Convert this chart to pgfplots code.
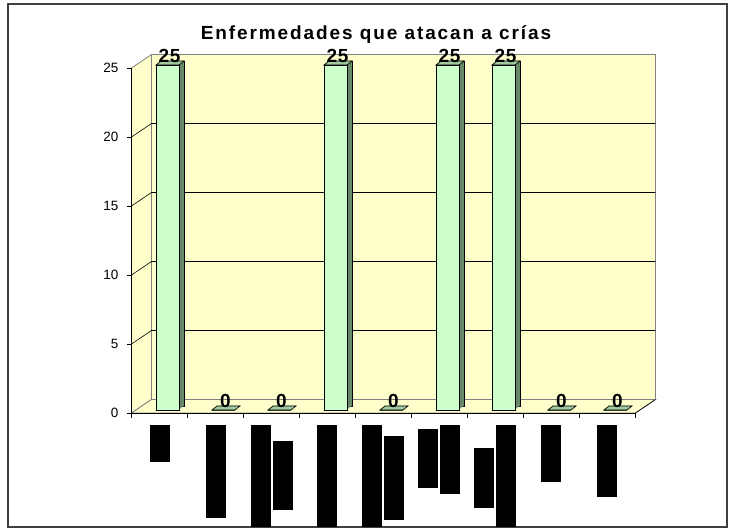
\documentclass[border=0pt]{standalone}
\usepackage{fontspec}
\setmainfont{Liberation Sans}
\newfontfamily\titlefont[LetterSpace=10]{Liberation Sans}
\newfontfamily\valfont[LetterSpace=4]{Liberation Sans}
\usepackage{pgfplots}
\pgfplotsset{compat=1.18}
\usepackage{pgfplotstable}
\definecolor{wall}{HTML}{FFFFCC}
\definecolor{frontg}{HTML}{CCFFCC}
\definecolor{topg}{HTML}{9FC99F}
\definecolor{sideg}{HTML}{668866}
\definecolor{edge}{HTML}{808080}

\pgfdeclareplotmark{barTop}{%
 \pgfpathmoveto{\pgfqpoint{-3.5bp}{3bp}}%
 \pgfpathlineto{\pgfqpoint{19.5bp}{3bp}}%
 \pgfpathlineto{\pgfqpoint{24.5bp}{7bp}}%
 \pgfpathlineto{\pgfqpoint{1.5bp}{7bp}}%
 \pgfpathclose
 \pgfusepathqfillstroke}

\pgfplotstableread{
x v
0.5 25
1.5 0
2.5 0
3.5 25
4.5 0
5.5 25
6.5 25
7.5 0
8.5 0
}\datatable

\begin{document}
\begin{tikzpicture}
\useasboundingbox (0,0) rectangle (734bp,531bp);
\draw[color=black!75, line width=1.2bp] (8bp,4bp) rectangle (727bp,527bp);
\node[font=\titlefont\bfseries\fontsize{19bp}{21bp}\selectfont, anchor=base] at (376bp,491bp) {Enfermedades que atacan a crías};
\begin{axis}[
 at={(131.5bp,118bp)}, anchor=south west,
 scale only axis, width=504bp, height=345bp,
 xmin=0, xmax=9, ymin=0, ymax=25,
 clip=false, axis on top,
 axis x line*=bottom, axis y line*=left,
 axis line style={black, line width=0.8bp},
 major tick length=0pt,
 tick style={draw=none},
 ytick={0,5,10,15,20,25},
 xtick={0.5,1.5,2.5,3.5,4.5,5.5,6.5,7.5,8.5},
 xticklabels={
  {\rule[-37bp]{20bp}{37bp}},
  {\rule[-93bp]{20bp}{93bp}},
  {\rule[-102bp]{20bp}{102bp}\hspace{2bp}\rule[-85bp]{20bp}{69bp}},
  {\rule[-102bp]{20bp}{102bp}},
  {\rule[-102bp]{20bp}{102bp}\hspace{2bp}\rule[-95bp]{20bp}{84bp}},
  {\rule[-63bp]{20bp}{59bp}\hspace{2bp}\rule[-69bp]{20bp}{69bp}},
  {\rule[-83bp]{20bp}{60bp}\hspace{2bp}\rule[-102bp]{20bp}{102bp}},
  {\rule[-57bp]{20bp}{57bp}},
  {\rule[-72bp]{20bp}{72bp}}},
 yticklabel style={anchor=east, inner sep=0pt, xshift=-13bp, font=\fontsize{13.5bp}{14bp}\selectfont},
 xticklabel style={anchor=north, inner sep=0pt, yshift=-12bp},
 /pgf/number format/assume math mode=true,
]
% walls
\fill[wall, draw=edge, line width=0.8bp] (axis cs:0.357,0.978) rectangle (axis cs:9.357,25.978);
\fill[wall, draw=edge, line width=0.8bp] (axis cs:0,0) -- (axis cs:0.357,0.978) -- (axis cs:0.357,25.978) -- (axis cs:0,25) -- cycle;
\fill[wall, draw=edge, line width=0.8bp] (axis cs:0,0) -- (axis cs:9,0) -- (axis cs:9.357,0.978) -- (axis cs:0.357,0.978) -- cycle;
\draw[edge, line width=1.8bp] (axis cs:9.357,0.978) -- (axis cs:9.357,25.978);
\draw[black, line width=0.6bp] (axis cs:9,0) -- (axis cs:9.357,0.978);
% gridlines
\draw[black, line width=0.6bp] (axis cs:0,5) -- (axis cs:0.357,5.978) -- (axis cs:9.357,5.978);
\draw[black, line width=0.6bp] (axis cs:0,10) -- (axis cs:0.357,10.978) -- (axis cs:9.357,10.978);
\draw[black, line width=0.6bp] (axis cs:0,15) -- (axis cs:0.357,15.978) -- (axis cs:9.357,15.978);
\draw[black, line width=0.6bp] (axis cs:0,20) -- (axis cs:0.357,20.978) -- (axis cs:9.357,20.978);
% ticks
\pgfplotsinvokeforeach{0,1,2,3,4,5,6,7,8,9}{\draw[black, line width=0.8bp] (axis cs:#1,0) -- ++(0,-5bp);}
\pgfplotsinvokeforeach{0,5,10,15,20,25}{\draw[black, line width=0.8bp] (axis cs:0,#1) -- ++(-5bp,0);}
% bars: side extrusion
\addplot[ybar, bar width=23bp, bar shift=13bp, yshift=7bp, fill=sideg, draw=black, line width=0.6bp] table[x=x,y=v]{\datatable};
\addplot[ybar, bar width=23bp, bar shift=12bp, yshift=6.2bp, fill=sideg, draw=none] table[x=x,y=v]{\datatable};
\addplot[ybar, bar width=23bp, bar shift=11bp, yshift=5.4bp, fill=sideg, draw=none] table[x=x,y=v]{\datatable};
\addplot[ybar, bar width=23bp, bar shift=10bp, yshift=4.6bp, fill=sideg, draw=none] table[x=x,y=v]{\datatable};
\addplot[ybar, bar width=23bp, bar shift=9bp, yshift=3.8bp, fill=sideg, draw=none] table[x=x,y=v]{\datatable};
% front faces
\addplot[ybar, bar width=23bp, bar shift=8bp, yshift=3bp, fill=frontg, draw=black, line width=0.9bp] table[x=x,y=v]{\datatable};
% top faces and value labels
\addplot[only marks, mark=barTop, mark options={fill=topg, draw=black, line width=0.7bp},
 nodes near coords, nodes near coords style={anchor=south, inner sep=0pt, xshift=10bp, yshift=5bp, font=\valfont\bfseries\fontsize{19bp}{19bp}\selectfont}] table[x=x,y=v]{\datatable};
\end{axis}
\end{tikzpicture}
\end{document}
